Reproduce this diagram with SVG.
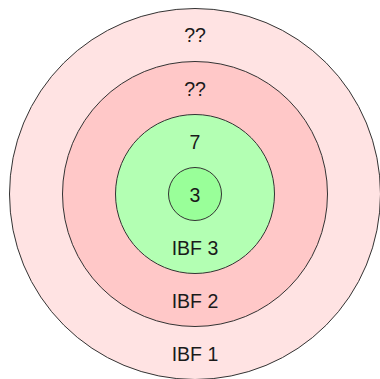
<svg xmlns="http://www.w3.org/2000/svg" width="380" height="379" viewBox="0 0 380 379">
<style>
.ring{stroke:#333;stroke-width:1}
.lbl{font-family:"Liberation Sans",Arial,sans-serif;font-size:19.5px;fill:#1a1a1a;text-anchor:middle}
</style>
<rect width="380" height="379" fill="#ffffff"/>
<g id="ibf1"><circle class="ring" cx="195" cy="194" r="185.5" fill="#ffe3e3"/></g>
<g id="ibf2"><circle class="ring" cx="195" cy="194" r="132.5" fill="#ffc8c8"/></g>
<g id="ibf3"><circle class="ring" cx="195" cy="194" r="79.5" fill="#b3ffb3"/></g>
<g id="core"><circle class="ring" cx="195" cy="194" r="26.5" fill="#99ff99"/></g>
<g id="labels">
<text class="lbl" x="195" y="42">??</text>
<text class="lbl" x="195" y="95.5">??</text>
<text class="lbl" x="195" y="149">7</text>
<text class="lbl" x="195" y="202">3</text>
<text class="lbl" x="195" y="255">IBF 3</text>
<text class="lbl" x="195" y="308">IBF 2</text>
<text class="lbl" x="195" y="361">IBF 1</text>
</g>
</svg>
